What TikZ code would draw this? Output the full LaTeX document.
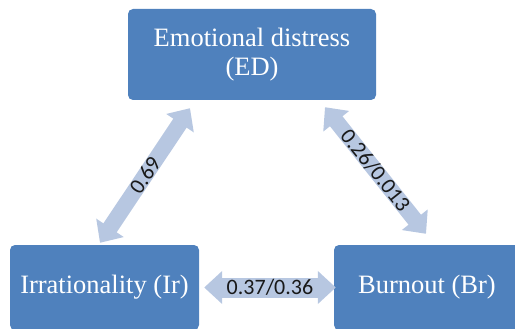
\documentclass[tikz,border=0pt]{standalone}
\usepackage{fontspec}
\setmainfont{Liberation Serif}
\newfontfamily\labelfont{Carlito}
\usetikzlibrary{arrows.meta}
\definecolor{boxblue}{HTML}{4F81BD}
\definecolor{arrowblue}{HTML}{B7C7E1}
\tikzset{every picture/.style={x=1pt,y=-1pt},
  varbox/.style={rectangle,rounded corners=5pt,fill=boxblue,text=white,align=center,inner sep=0pt,font=\fontsize{26.5}{29}\selectfont},
  fatarrow/.style={draw=arrowblue,line width=16pt,{Triangle[length=18pt,width=32pt]}-{Triangle[length=18pt,width=32pt]}},
  weight/.style={inner sep=0pt,text=black!90,font=\labelfont\fontsize{22}{24}\selectfont}}

\begin{document}
\begin{tikzpicture}
      \useasboundingbox (0,0) rectangle (515,329);

      \node[varbox, minimum width=248pt, minimum height=91pt] (ed) at (252,54.5){Emotional distress\\(ED)};
      \node[varbox, minimum width=189pt, minimum height=85pt] (ir) at (104.5,287.5){Irrationality (Ir)};
      \node[varbox, minimum width=186pt, minimum height=85pt] (br) at (427,287.5){Burnout (Br)};

      \draw[fatarrow]([xshift=-4.5pt,yshift=2pt]ir.north)--node[weight,sloped]{0.69}([xshift=-62pt,yshift=-8pt]ed.south);
      \draw[fatarrow]([xshift=73pt,yshift=-7pt]ed.south)--node[weight,sloped]{0.26/0.013}([xshift=-1pt,yshift=11pt]br.north);
      \draw[fatarrow,line width=20pt]([xshift=5pt]ir.east)--node[weight]{0.37/0.36}([xshift=2pt]br.west);
\end{tikzpicture}
\end{document}
